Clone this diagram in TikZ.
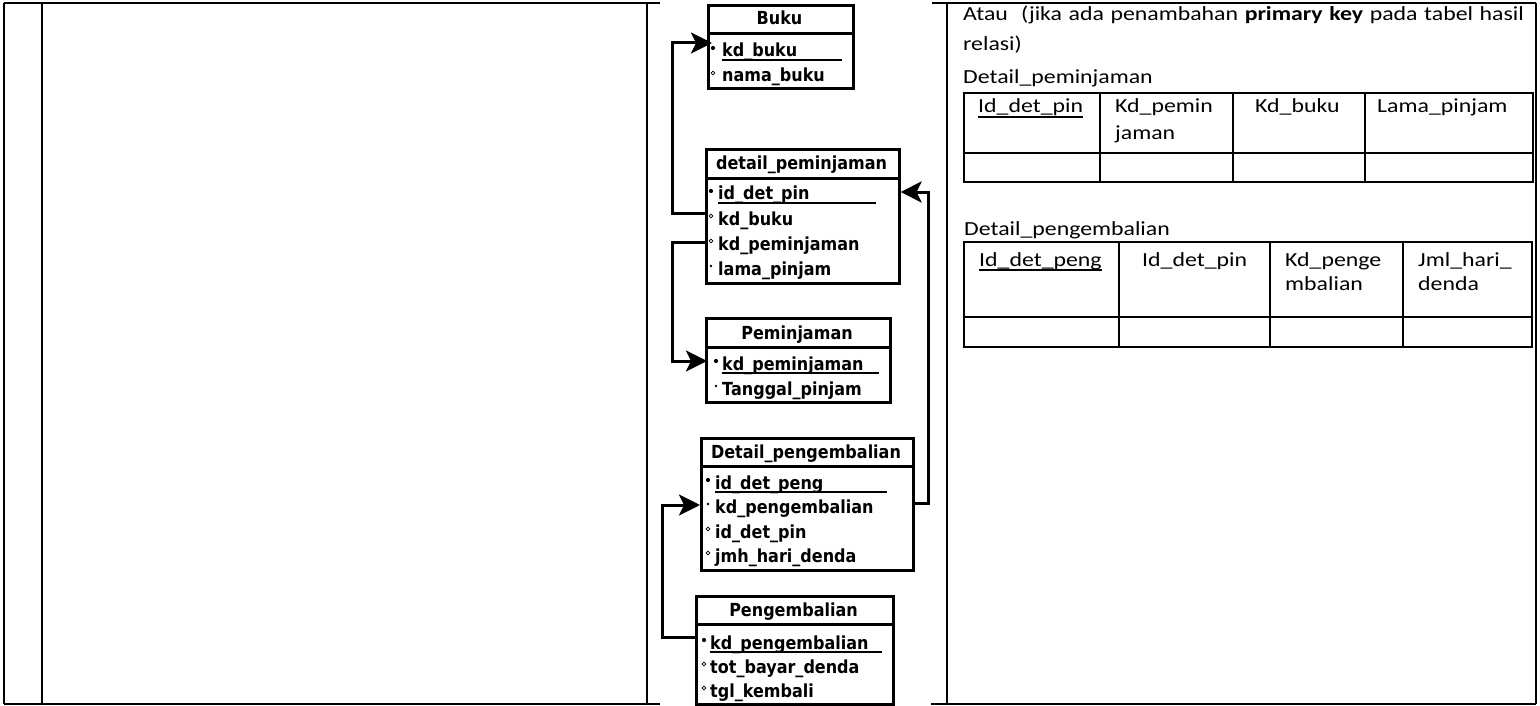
\documentclass[tikz,border=0pt]{standalone}
\usepackage{fontspec}
\setmainfont{Carlito}
\newfontfamily\wordfont[FakeStretch=1.19]{Carlito}
\newfontfamily\erdfont[FakeStretch=0.89]{DejaVu Sans}
\usetikzlibrary{arrows.meta,calc}

% one ERD entity: header box, body box and centred title
\newcommand\erdtable[7]{%
  \node[tblbox, minimum width={#3-#2}, minimum height={#5-#4}] (#1-h) at (#2,#4) {};
  \node[tblbox, minimum width={#3-#2}, minimum height={#6-#5}] (#1-b) at (#2,#5) {};
  \node[erdhead] (#1-t) at ({(#2+#3)/2},#5-7) {#7};
}
% one attribute row: bullet kind, bullet x, text x, baseline, text
\newcommand\erdrow[6]{%
  \node[erdtext] (#1) at (#3,#4) {#6};
  \path[#5] (#2,#4-9) circle;
}

\begin{document}
\begin{tikzpicture}[x=1pt,y=-1pt,
  frame/.style={line width=2pt},
  tblbox/.style={draw, line width=2.6pt, inner sep=0pt, anchor=north west},
  erdhead/.style={inner sep=0pt, anchor=base, font=\erdfont\bfseries\fontsize{18}{21}\selectfont},
  erdtext/.style={inner sep=0pt, anchor=base west, font=\erdfont\bfseries\fontsize{18}{21}\selectfont},
  pkline/.style={line width=1.3pt},
  keyb/.style={fill=black, radius=2.1},
  dotb/.style={fill=black, radius=1.3},
  optb/.style={draw=black, line width=0.7pt, radius=1.8},
  fk/.style={line width=3pt, -{Stealth[length=21pt,width=21pt,inset=5pt]}},
  cell/.style={line width=2pt},
  wtext/.style={inner sep=0pt, anchor=base west, font=\wordfont\fontsize{20}{24}\selectfont},
  uline/.style={line width=1.2pt}
]
\useasboundingbox (0,0) rectangle (1540,706);

% outer frame of the table
\draw[frame] (3.5,3.5) -- (660,3.5);
\draw[frame] (932,3.5) -- (1535.5,3.5);
\draw[frame] (3.5,704) -- (660,704);
\draw[frame] (931,704) -- (1535.5,704);
\foreach \xx in {3.5,42,647,947,1535.5} \draw[frame] (\xx,3.5) -- (\xx,704);

% ---------- ERD entities ----------
\erdtable{bk}{707}{852}{4}{32}{87}{Buku}
\erdrow{bk-1}{713}{722}{57}{keyb}{kd\_buku}
\erdrow{bk-2}{713}{722}{82}{optb}{nama\_buku}
\draw[pkline] (bk-1.base west |- 0,60) -- (842,60);

\erdtable{dp}{705}{898}{148}{177}{282}{detail\_peminjaman}
\erdrow{dp-1}{711}{718}{200}{keyb}{id\_det\_pin}
\erdrow{dp-2}{711}{718}{225}{optb}{kd\_buku}
\erdrow{dp-3}{711}{718}{250}{optb}{kd\_peminjaman}
\erdrow{dp-4}{711}{718}{275}{dotb}{lama\_pinjam}
\draw[pkline] (dp-1.base west |- 0,203) -- (876,203);

\erdtable{pm}{705}{889}{317}{346}{401}{Peminjaman}
\erdrow{pm-1}{716}{722}{370}{keyb}{kd\_peminjaman}
\erdrow{pm-2}{716}{722}{395}{dotb}{Tanggal\_pinjam}
\draw[pkline] (pm-1.base west |- 0,373) -- (879,373);

\erdtable{dg}{700}{912}{437}{465}{569}{Detail\_pengembalian}
\erdrow{dg-1}{708}{715}{489}{keyb}{id\_det\_peng}
\erdrow{dg-2}{708}{715}{513}{dotb}{kd\_pengembalian}
\erdrow{dg-3}{708}{715}{538}{optb}{id\_det\_pin}
\erdrow{dg-4}{708}{715}{562}{optb}{jmh\_hari\_denda}
\draw[pkline] (dg-1.base west |- 0,492) -- (887,492);

\erdtable{pg}{695}{892}{595}{623}{703}{Pengembalian}
\erdrow{pg-1}{704}{710}{649}{keyb}{kd\_pengembalian}
\erdrow{pg-2}{704}{710}{673}{optb}{tot\_bayar\_denda}
\erdrow{pg-3}{704}{710}{697}{optb}{tgl\_kembali}
\draw[pkline] (pg-1.base west |- 0,652) -- (882,652);

% ---------- relationships ----------
\draw[fk] (dp-b.west |- 0,213) -| (672,43) -- ($(bk-b.west |- 0,43)+(5,0)$);
\draw[fk] (dp-b.west |- 0,242) -| (672,361) -- ($(pm-b.west |- 0,361)+(2,0)$);
\draw[fk] (dg-b.east |- 0,503) -| (928,192) -- (dp-b.east |- 0,192);
\draw[fk] (pg-b.west |- 0,637) -| (662,505) -- (dg-b.west |- 0,505);

% ---------- right column ----------
\node[wtext] (note1) at (963,21) {\spaceskip=6.6pt plus 1pt Atau\ \ (jika ada penambahan \textbf{primary key} pada tabel hasil};
\node[wtext] (note2) at (963,51) {relasi)};
\node[wtext] (cap1) at (963,84) {Detail\_peminjaman};

\draw[cell] (964,93) rectangle (1533,182);
\draw[cell] (964,153) -- (1533,153);
\foreach \xx in {1100,1233,1365} \draw[cell] (\xx,93) -- (\xx,182);
\node[wtext] (a1) at (978,113) {Id\_det\_pin};
\draw[uline] ([yshift=-4pt]a1.base west) -- ([yshift=-4pt]a1.base east);
\node[wtext] (a2) at (1115,113) {Kd\_pemin};
\node[wtext] (a2b) at (1115,140) {jaman};
\node[wtext] (a3) at (1255,113) {Kd\_buku};
\node[wtext] (a4) at (1377,113) {Lama\_pinjam};

\node[wtext] (cap2) at (964,235) {Detail\_pengembalian};
\draw[cell] (964,242) rectangle (1532,347);
\draw[cell] (964,317) -- (1532,317);
\foreach \xx in {1119,1270,1403} \draw[cell] (\xx,242) -- (\xx,347);
\node[wtext] (b1) at (979,266) {Id\_det\_peng};
\draw[uline] ([yshift=-4pt]b1.base west) -- ([yshift=-4pt]b1.base east);
\node[wtext] (b2) at (1142,266) {Id\_det\_pin};
\node[wtext] (b3) at (1285,266) {Kd\_penge};
\node[wtext] (b3b) at (1285,290) {mbalian};
\node[wtext] (b4) at (1418,266) {Jml\_hari\_};
\node[wtext] (b4b) at (1418,290) {denda};
\end{tikzpicture}
\end{document}
